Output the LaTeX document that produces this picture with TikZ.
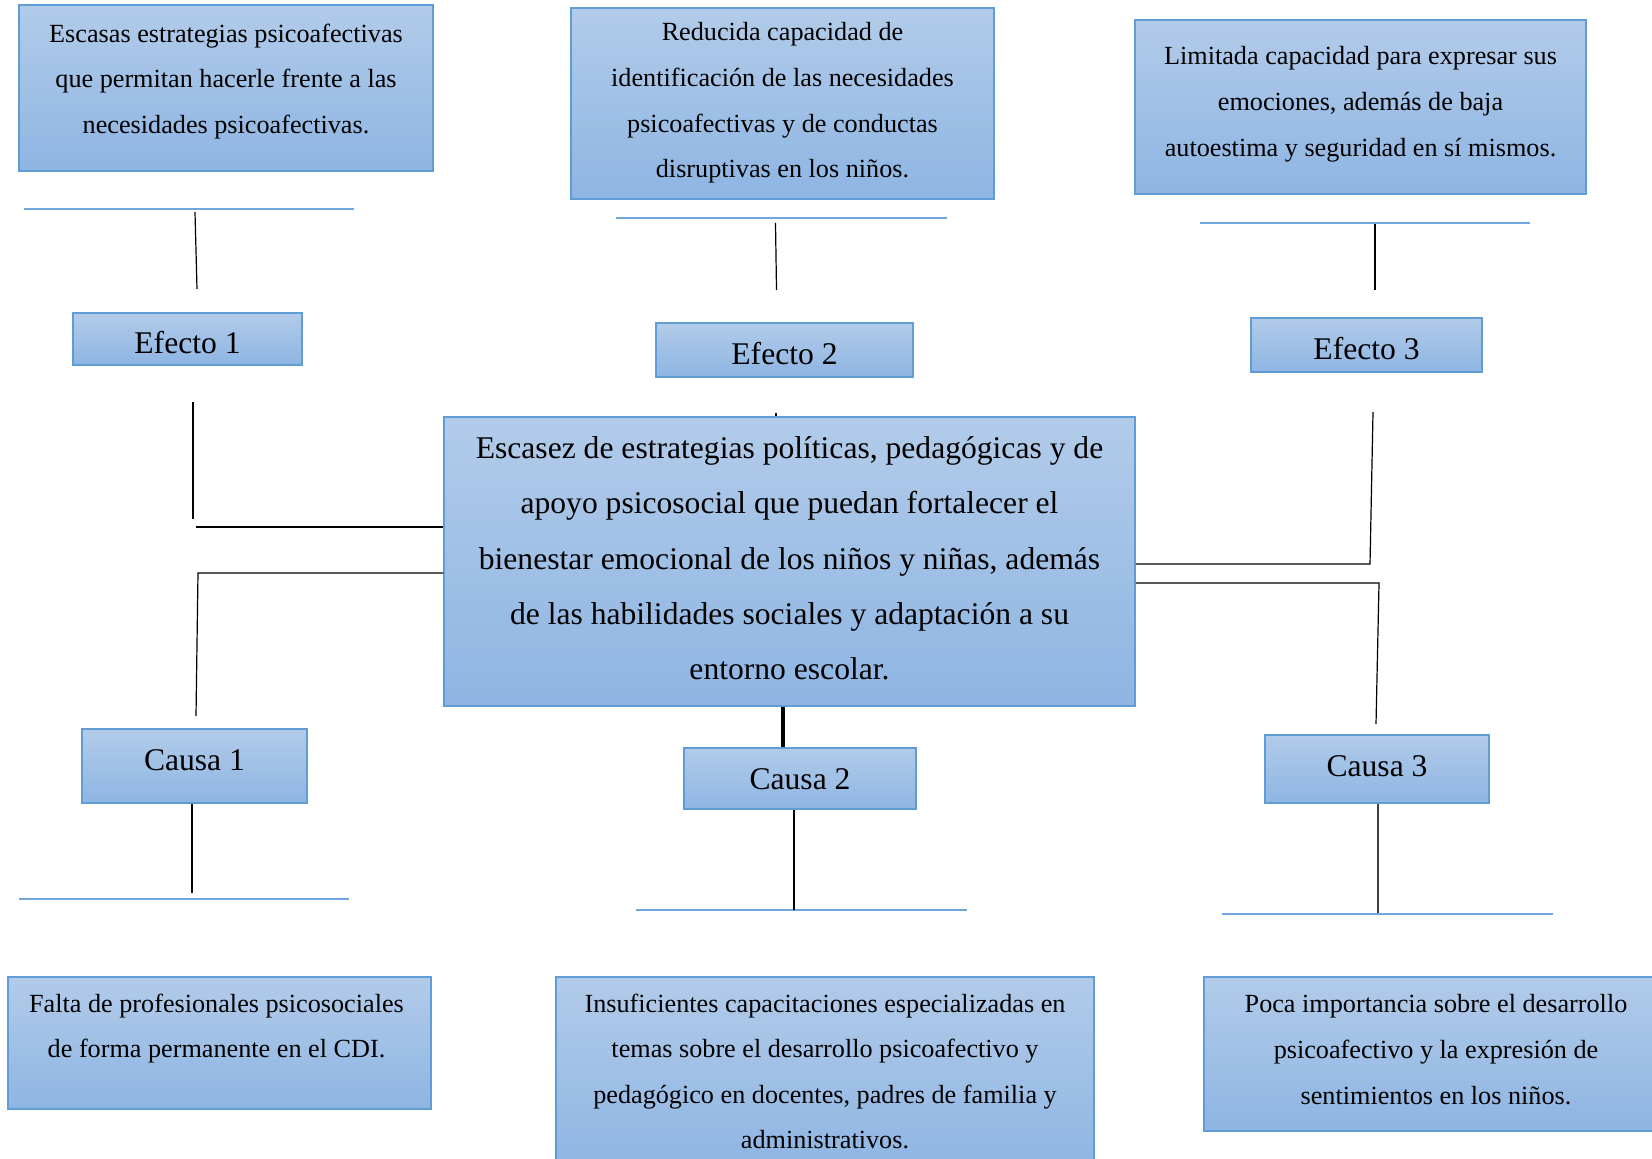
\documentclass[tikz,border=0pt]{standalone}
\usepackage{fontspec}
\setmainfont{Liberation Serif}
\usetikzlibrary{positioning}
\definecolor{azularriba}{RGB}{178,203,233}
\definecolor{azulabajo}{RGB}{142,181,227}
\definecolor{bordeazul}{RGB}{96,157,214}
\definecolor{lineaazul}{RGB}{112,166,222}
\tikzset{caja/.style={
        rectangle,
        draw=bordeazul,
        line width=0.75pt,
        top color=azularriba,
        bottom color=azulabajo,
        inner sep=0pt },
    rotulo/.style={
        font=\fontsize{15.8}{18}\selectfont,
        text height=10.8pt, text depth=0pt },
    texto/.style={
        align=center,
        inner sep=0pt,
        font=\fontsize{13.1}{22.8}\selectfont },
    textogrande/.style={
        align=center,
        inner sep=0pt,
        font=\fontsize{15.8}{27.6}\selectfont },
    barra/.style={draw=lineaazul, line width=0.8pt},
    linea/.style={draw=black, line width=0.6pt},
    gruesa/.style={draw=black, line width=1.8pt} }

\begin{document}
\begin{tikzpicture}[x=0.5pt,y=-0.5pt]
\useasboundingbox (0,0) rectangle (1652,1159);

% efectos (arriba)
\node[caja, minimum width=207pt, minimum height=83pt] (t1) at (226,88) {};
\node[texto, below=9.5pt of t1.north] (t1txt)
{Escasas estrategias psicoafectivas\\
que permitan hacerle frente a las\\
necesidades psicoafectivas.};

\node[caja, minimum width=211.5pt, minimum height=95.5pt] (t2) at (782.5,103.5) {};
\node[texto, below=7.5pt of t2.north] (t2txt)
{Reducida capacidad de\\
identificación de las necesidades\\
psicoafectivas y de conductas\\
disruptivas en los niños.};

\node[caja, minimum width=225.5pt, minimum height=87pt] (t3) at (1360.5,107) {};
\node[texto, below=13.5pt of t3.north] (t3txt)
{Limitada capacidad para expresar sus\\
emociones, además de baja\\
autoestima y seguridad en sí mismos.};

\node[caja, rotulo, text height=15pt, minimum width=114.5pt, minimum height=26pt] (e1) at (187.5,339) {Efecto 1};
\node[caja, rotulo, text height=15pt, minimum width=128.5pt, minimum height=27pt] (e2) at (784.5,350) {Efecto 2};
\node[caja, rotulo, text height=15pt, minimum width=115.5pt, minimum height=27pt] (e3) at (1366.5,345) {Efecto 3};

% problema central
\node[caja, minimum width=345.5pt, minimum height=144.5pt] (central) at (789.5,561.5) {};
\node[textogrande, below=10pt of central.north] (centraltxt)
{Escasez de estrategias políticas, pedagógicas y de\\
apoyo psicosocial que puedan fortalecer el\\
bienestar emocional de los niños y niñas, además\\
de las habilidades sociales y adaptación a su\\
entorno escolar.};

% causas
\node[caja, rotulo, text depth=6.4pt, minimum width=112.5pt, minimum height=37pt] (c1) at (194.5,766) {Causa 1};
\node[caja, rotulo, minimum width=116pt, minimum height=30.5pt] (c2) at (800,778.5) {Causa 2};
\node[caja, rotulo, text depth=3.2pt, minimum width=112pt, minimum height=34pt] (c3) at (1377,769) {Causa 3};

\node[caja, minimum width=211.5pt, minimum height=66pt] (b1) at (219.5,1043) {};
\node[texto, below=8.5pt of b1.north, xshift=-1.5pt] (b1txt)
{Falta de profesionales psicosociales\\
de forma permanente en el CDI.};

\node[caja, minimum width=269pt, minimum height=96.5pt] (b2) at (825,1073.5) {};
\node[texto, below=8.5pt of b2.north] (b2txt)
{Insuficientes capacitaciones especializadas en\\
temas sobre el desarrollo psicoafectivo y\\
pedagógico en docentes, padres de familia y\\
administrativos.};

\node[caja, minimum width=228pt, minimum height=77pt] (b3) at (1432,1054) {};
\node[texto, below=9pt of b3.north, xshift=2pt] (b3txt)
{Poca importancia sobre el desarrollo\\
psicoafectivo y la expresión de\\
sentimientos en los niños.};

% lineas azules
\coordinate (l1a) at (24,209);   \coordinate (l1b) at (354,209);
\coordinate (l2a) at (616,218);  \coordinate (l2b) at (947,218);
\coordinate (l3a) at (1200,223); \coordinate (l3b) at (1530,223);
\coordinate (m1a) at (19,899);   \coordinate (m1b) at (349,899);
\coordinate (m2a) at (636,910);  \coordinate (m2b) at (967,910);
\coordinate (m3a) at (1222,914); \coordinate (m3b) at (1553,914);
\draw[barra] (l1a) -- (l1b);
\draw[barra] (l2a) -- (l2b);
\draw[barra] (l3a) -- (l3b);
\draw[barra] (m1a) -- (m1b);
\draw[barra] (m2a) -- (m2b);
\draw[barra] (m3a) -- (m3b);

% trazos sueltos bajo las lineas azules
\coordinate (v1a) at (195,212);  \coordinate (v1b) at (197,289);
\coordinate (v2a) at (775.5,223); \coordinate (v2b) at (776.5,290);
\coordinate (v3a) at (1375,224); \coordinate (v3b) at (1375,290);
\draw[linea] (v1a) -- (v1b);
\draw[linea] (v2a) -- (v2b);
\draw[linea] (v3a) -- (v3b);

% conectores al problema central
\coordinate (k1a) at (193,402); \coordinate (k1b) at (193,519);
\coordinate (k1c) at (196,527);
\draw[linea] (k1a) -- (k1b);
\draw[linea] (k1c) -- (central.west |- k1c);

\coordinate (k2) at (198,573); \coordinate (k2b) at (196,716);
\draw[linea] (central.west |- k2) -- (k2) -- (k2b);

\coordinate (k3) at (1370,564); \coordinate (k3b) at (1373,412);
\draw[linea] (central.east |- k3) -- (k3) -- (k3b);

\coordinate (k4) at (1379,583); \coordinate (k4b) at (1376,724);
\draw[linea] (central.east |- k4) -- (k4) -- (k4b);

\coordinate (k5) at (783,0);
\draw[gruesa] (central.south -| k5) -- (c2.north -| k5);

\coordinate (k6) at (776,413);
\draw[line width=1pt] (central.north -| k6) -- (k6);

% causas hacia las lineas azules
\coordinate (d1) at (192,893);
\coordinate (d2) at (794,910);
\coordinate (d3) at (1378,913);
\draw[linea] (c1.south -| d1) -- (d1);
\draw[linea] (c2.south -| d2) -- (d2);
\draw[line width=1pt, draw=black!75] (c3.south -| d3) -- (d3);

\end{tikzpicture}
\end{document}
